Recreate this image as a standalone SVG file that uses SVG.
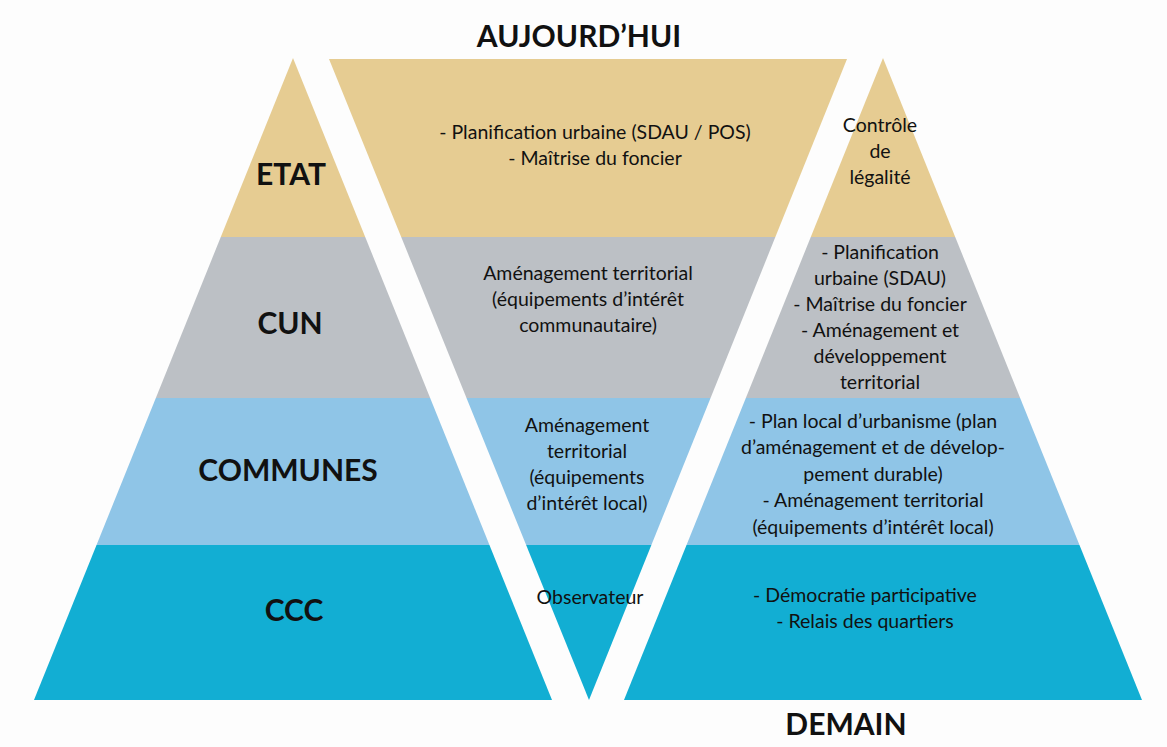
<svg xmlns="http://www.w3.org/2000/svg" width="1167" height="747" viewBox="0 0 1167 747">
  <style>
    .t { font-family: Lato, "Open Sans", "Liberation Sans", sans-serif; font-size: 19.5px; fill: #111; text-anchor: middle; }
    .lvl { font-family: Lato, "Open Sans", "Liberation Sans", sans-serif; font-weight: 700; font-size: 30px; fill: #111; text-anchor: middle; }
    .title { font-family: Lato, "Open Sans", "Liberation Sans", sans-serif; font-weight: 700; font-size: 30px; fill: #111; text-anchor: middle; }
    .etat { fill: #E6CC92; }
    .cun { fill: #BCC0C5; }
    .com { fill: #8FC5E7; }
    .ccc { fill: #12AED3; }
  </style>
  <defs>
    <clipPath id="clip-left"><polygon points="293,58 552,700 34,700"/></clipPath>
    <clipPath id="clip-mid"><polygon points="329,59 847,59 589,700"/></clipPath>
    <clipPath id="clip-right"><polygon points="883,58 1142,700 624,700"/></clipPath>
    <!-- the four horizontal bands shared by all three shapes -->
    <g id="bands">
      <rect class="etat" x="0" y="40" width="1167" height="197"/>
      <rect class="cun" x="0" y="237" width="1167" height="161"/>
      <rect class="com" x="0" y="398" width="1167" height="147"/>
      <rect class="ccc" x="0" y="545" width="1167" height="160"/>
    </g>
  </defs>

  <rect x="0" y="0" width="1167" height="747" fill="#FDFDFD"/>

  <!-- headings -->
  <text class="title" x="579" y="47">AUJOURD’HUI</text>
  <text class="title" x="846" y="735">DEMAIN</text>

  <!-- left pyramid: the actors -->
  <g id="actors">
    <g clip-path="url(#clip-left)"><use href="#bands"/></g>
    <g id="actor-etat"><text class="lvl" x="291" y="185">ETAT</text></g>
    <g id="actor-cun"><text class="lvl" x="290" y="334">CUN</text></g>
    <g id="actor-communes"><text class="lvl" x="288" y="481" font-size="31">COMMUNES</text></g>
    <g id="actor-ccc"><text class="lvl" x="294" y="621">CCC</text></g>
  </g>

  <!-- inverted pyramid: today -->
  <g id="today">
    <g clip-path="url(#clip-mid)"><use href="#bands"/></g>
    <g id="today-etat">
      <text class="t" x="595" y="139">- Planification urbaine (SDAU / POS)</text>
      <text class="t" x="595" y="165">- Maîtrise du foncier</text>
    </g>
    <g id="today-cun">
      <text class="t" x="588" y="280">Aménagement territorial</text>
      <text class="t" x="588" y="306">(équipements d’intérêt</text>
      <text class="t" x="588" y="332">communautaire)</text>
    </g>
    <g id="today-communes">
      <text class="t" x="587" y="432">Aménagement</text>
      <text class="t" x="587" y="458">territorial</text>
      <text class="t" x="587" y="484">(équipements</text>
      <text class="t" x="587" y="510">d’intérêt local)</text>
    </g>
    <g id="today-ccc">
      <text class="t" x="590" y="604">Observateur</text>
    </g>
  </g>

  <!-- right pyramid: tomorrow -->
  <g id="tomorrow">
    <g clip-path="url(#clip-right)"><use href="#bands"/></g>
    <g id="tomorrow-etat">
      <text class="t" x="880" y="132">Contrôle</text>
      <text class="t" x="880" y="158">de</text>
      <text class="t" x="880" y="184">légalité</text>
    </g>
    <g id="tomorrow-cun">
      <text class="t" x="880" y="259">- Planification</text>
      <text class="t" x="880" y="285">urbaine (SDAU)</text>
      <text class="t" x="880" y="311">- Maîtrise du foncier</text>
      <text class="t" x="880" y="337">- Aménagement et</text>
      <text class="t" x="880" y="363">développement</text>
      <text class="t" x="880" y="389">territorial</text>
    </g>
    <g id="tomorrow-communes">
      <text class="t" x="873" y="428">- Plan local d’urbanisme (plan</text>
      <text class="t" x="873" y="454">d’aménagement et de dévelop-</text>
      <text class="t" x="873" y="481">pement durable)</text>
      <text class="t" x="873" y="507">- Aménagement territorial</text>
      <text class="t" x="873" y="534">(équipements d’intérêt local)</text>
    </g>
    <g id="tomorrow-ccc">
      <text class="t" x="865" y="602">- Démocratie participative</text>
      <text class="t" x="865" y="628">- Relais des quartiers</text>
    </g>
  </g>
</svg>
